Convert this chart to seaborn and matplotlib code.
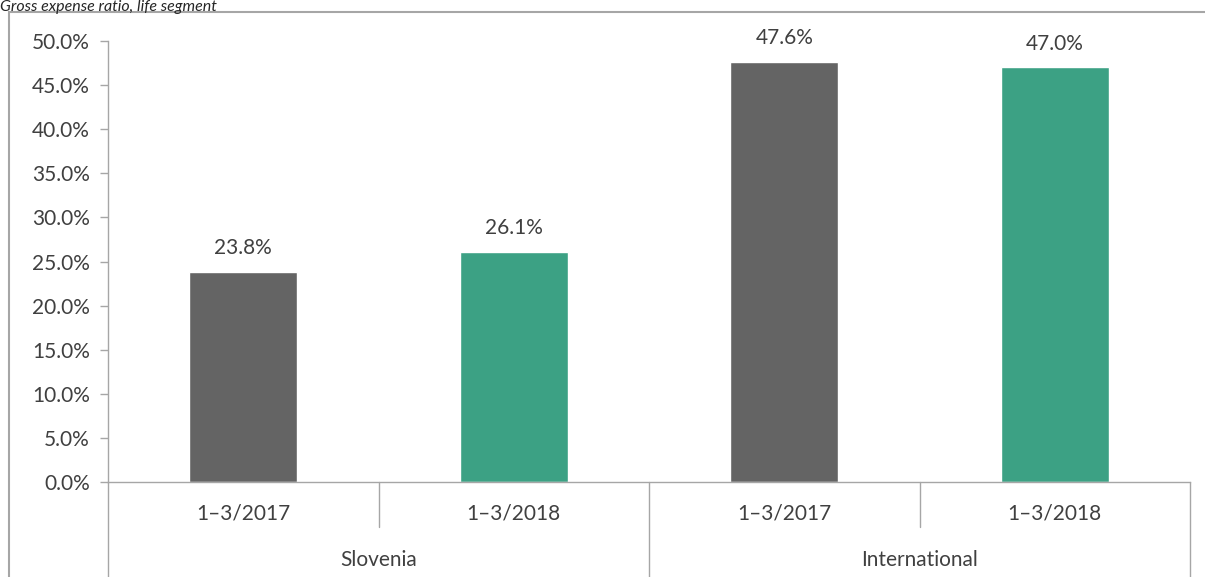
import matplotlib
matplotlib.use("Agg")
import matplotlib.pyplot as plt
import seaborn as sns
import pandas as pd
from matplotlib.patches import Rectangle

sns.set_style("white")
plt.rcParams['font.family'] = ['Lato', 'DejaVu Sans']

groups = ["Slovenia", "Slovenia", "International", "International"]
periods = ["1–3/2017", "1–3/2018", "1–3/2017", "1–3/2018"]
values = [23.8, 26.1, 47.6, 47.0]
group_names = ["Slovenia", "International"]
yticks = [0, 5, 10, 15, 20, 25, 30, 35, 40, 45, 50]
title = "Gross expense ratio, life segment"

df = pd.DataFrame({"key": [f"{g} {p}" for g, p in zip(groups, periods)],
                   "period": periods, "value": values})

W, H = 1205, 577
fig = plt.figure(figsize=(W / 100, H / 100), dpi=100)
ax = fig.add_axes([108 / W, 95 / H, (1190 - 108) / W, (482 - 41) / H])

txt = "#404040"
line = "#a6a6a6"
fs = 15

sns.barplot(data=df, x="key", y="value", hue="period", dodge=False,
            palette={"1–3/2017": "#646464", "1–3/2018": "#3ca184"},
            width=0.4, ax=ax, legend=False, saturation=1)

ax.set_ylim(0, 50)
ax.set_xlim(-0.5, 3.5)
ax.set_yticks(yticks)
ax.set_yticklabels([f"{v:.1f}%" for v in yticks], fontsize=fs, color=txt)
ax.tick_params(axis="y", left=True, length=6, width=1, color=line, pad=7)
ax.set_xticks([])
ax.set_xlabel("")
ax.set_ylabel("")
for s in ["top", "right"]:
    ax.spines[s].set_visible(False)
for s in ["left", "bottom"]:
    ax.spines[s].set_color(line)
    ax.spines[s].set_linewidth(1)

for c in ax.containers:
    ax.bar_label(c, labels=[f"{v:.1f}%" for v in c.datavalues],
                 padding=10, fontsize=fs, color=txt)

ax_h = 482 - 41
inner = -(527 - 482) / ax_h
outer = -(H - 482 + 5) / ax_h
for i, x in enumerate([-0.5, 0.5, 1.5, 2.5, 3.5]):
    ybot = outer if i % 2 == 0 else inner
    ax.plot([x, x], [0, ybot], transform=ax.get_xaxis_transform(),
            color=line, lw=1, clip_on=False)

for i, p in enumerate(periods):
    ax.text(i, -(514 - 482) / ax_h, p, transform=ax.get_xaxis_transform(),
            ha="center", va="center", fontsize=fs, color=txt)
for j, g in enumerate(group_names):
    ax.text(2 * j + 0.5, -(560 - 482) / ax_h, g, transform=ax.get_xaxis_transform(),
            ha="center", va="center", fontsize=fs, color=txt)

fig.patches.append(Rectangle((9 / W, -0.1), 1.2, 1 - 12 / H + 0.1,
                             transform=fig.transFigure, fill=False,
                             edgecolor=line, lw=1.5))
fig.text(0.5 / W, 1 - 0.5 / H, title, fontsize=11.5, style="italic", color="#262626",
         ha="left", va="top")

fig.savefig("out.png", dpi=100)
